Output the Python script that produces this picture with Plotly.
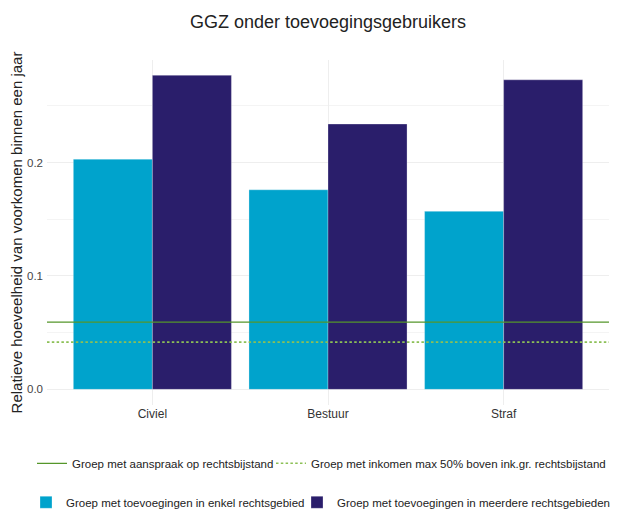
import plotly.graph_objects as go

categories = ["Civiel", "Bestuur", "Straf"]
enkel = [0.203, 0.176, 0.157]
meerdere = [0.277, 0.234, 0.273]
aanspraak_level = 0.0593
inkomen_level = 0.0417

name_enkel = "Groep met toevoegingen in enkel rechtsgebied"
name_meerdere = "Groep met toevoegingen in meerdere rechtsgebieden"
name_aanspraak = "Groep met aanspraak op rechtsbijstand"
name_inkomen = "Groep met inkomen max 50% boven ink.gr. rechtsbijstand"

FONT = "Liberation Sans, Arial, sans-serif"

# the page body adds an 8px offset, so layout positions are shifted by -8px
fig = go.Figure()
fig.add_bar(x=categories, y=enkel, name=name_enkel, legend="legend2", legendwidth=226,
            marker=dict(color="#00A3CC", line=dict(color="rgba(255,255,255,0.35)", width=0.8)))
fig.add_bar(x=categories, y=meerdere, name=name_meerdere, legend="legend2", legendwidth=279,
            marker=dict(color="#2A1E6B", line=dict(color="rgba(255,255,255,0.35)", width=0.8)))
fig.add_scatter(x=[0, 1], y=[aanspraak_level, aanspraak_level], xaxis="x2", mode="lines",
                line=dict(color="#55962A", width=1.3), name=name_aanspraak,
                legend="legend", legendwidth=194)
fig.add_scatter(x=[0, 1], y=[inkomen_level, inkomen_level], xaxis="x2", mode="lines",
                line=dict(color="#8CC056", width=1.6, dash="2.5px,2.3px"), name=name_inkomen,
                legend="legend", legendwidth=302)

fig.update_layout(
    width=618, height=511,
    margin=dict(l=39, r=17, t=52, b=114, autoexpand=False),
    paper_bgcolor="white", plot_bgcolor="white",
    font=dict(family=FONT, size=11, color="#222"),
    title=dict(text="GGZ onder toevoegingsgebruikers", x=0.5, xref="paper",
               y=1 - 14 / 511, yref="container", yanchor="middle",
               font=dict(size=18, color="#222")),
    barmode="group", bargap=0.1, bargroupgap=0,
    xaxis=dict(range=[-0.6, 2.6], showgrid=True, gridcolor="#EEEEEE", gridwidth=1,
               showline=False, zeroline=False, ticks="", ticklabelstandoff=0,
               tickfont=dict(size=12, color="#333")),
    xaxis2=dict(overlaying="x", range=[0, 1], visible=False),
    yaxis=dict(range=[-0.0138, 0.2905], tickvals=[0, 0.1, 0.2], ticktext=["0.0", "0.1", "0.2"],
               showgrid=True, gridcolor="#EEEEEE", gridwidth=1, zeroline=False, showline=False,
               ticks="", ticklabelstandoff=3, tickfont=dict(size=11.5, color="#444"),
               minor=dict(tickvals=[0.05, 0.15, 0.25], showgrid=True, gridcolor="#F4F4F4", gridwidth=1),
               title=dict(text="Relatieve hoeveelheid van voorkomen binnen een jaar",
                          font=dict(size=15, color="#222"), standoff=4)),
    legend=dict(orientation="h", x=(24 - 39) / 562, xanchor="left", y=-0.169, yanchor="middle",
                font=dict(size=11.5, color="#222"), bgcolor="rgba(0,0,0,0)"),
    legend2=dict(orientation="h", x=(18 - 39) / 562, xanchor="left", y=-0.282, yanchor="middle",
                 font=dict(size=11.5, color="#222"), bgcolor="rgba(0,0,0,0)"),
)

fig.write_html("out.html")
